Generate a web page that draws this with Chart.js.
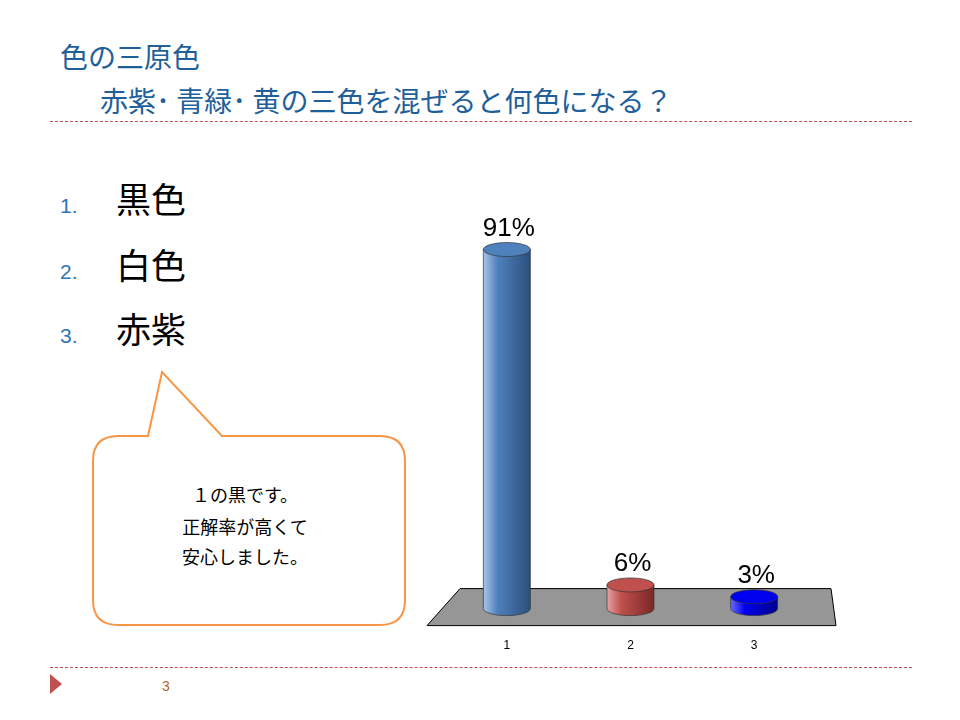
<!DOCTYPE html>
<html><head><meta charset="utf-8">
<script src="https://cdn.jsdelivr.net/npm/chart.js@4"></script>
<style>
body{margin:0;width:960px;height:720px;background:#fff;position:relative;overflow:hidden;font-family:"Noto Sans CJK JP",sans-serif}
.t{position:absolute;color:#1f5f9a;font-size:28px;white-space:nowrap}
.li{position:absolute;left:60px;font-size:35px;color:#000}
.li span{color:#2e75b6;font-size:21px;display:inline-block;width:56px;font-family:"Liberation Sans"}
.dash{position:absolute;left:50px;width:862px;border-top:1px dashed #c0504d}
#wrap{position:absolute;left:420px;top:200px;width:430px;height:475px}
</style></head><body>
<div class="t" style="left:60px;top:36px">色の三原色</div>
<div class="t" style="left:100px;top:80px">赤紫･ 青緑･ 黄の三色を混ぜると何色になる？</div>
<div class="dash" style="top:121px"></div>
<div class="li" style="top:172px"><span>1.</span>黒色</div>
<div class="li" style="top:238px"><span>2.</span>白色</div>
<div class="li" style="top:302px"><span>3.</span>赤紫</div>
<svg style="position:absolute;left:0;top:0" width="960" height="720">
<path d="M148 436 L162 372 L222 436 L380 436 Q405 436 405 461 L405 600 Q405 625 380 625 L118 625 Q93 625 93 600 L93 461 Q93 436 118 436 Z" fill="#fff" stroke="#f79646" stroke-width="2"/>
<text x="245" y="502" font-size="18" text-anchor="middle">１の黒です。</text>
<text x="245" y="534" font-size="18" text-anchor="middle">正解率が高くて</text>
<text x="245" y="564" font-size="18" text-anchor="middle">安心しました。</text>
<polygon points="50,674 50,694 62,684" fill="#c0504d"/>
<text x="162" y="691" font-size="14" fill="#b5651d" font-family="Liberation Sans">3</text>
</svg>
<div class="dash" style="top:667px"></div>
<div id="wrap"><canvas id="c"></canvas></div>
<script>
const categories = ['1', '2', '3'];
const values = [91, 6, 3];
const labels = ['91%', '6%', '3%'];
const colors = [['#a9c4e8', '#4f81bd', '#2c4f7c'], ['#e6a3a1', '#c0504d', '#7a2826'], ['#6b6bff', '#0000ee', '#00008a']];

const cylinder = {
  id: 'cylinder',
  beforeDatasetsDraw(chart) {
    const c = chart.ctx, a = chart.chartArea;
    c.save();
    c.beginPath();
    c.moveTo(a.left + 15, a.bottom - 20);
    c.lineTo(a.right + 15, a.bottom - 20);
    c.lineTo(a.right + 20, a.bottom + 17);
    c.lineTo(a.left - 18, a.bottom + 17);
    c.closePath();
    c.fillStyle = '#969696';
    c.fill();
    c.strokeStyle = '#000';
    c.lineWidth = 1;
    c.stroke();
    c.restore();
  },
  afterDatasetsDraw(chart) {
    const c = chart.ctx;
    chart.getDatasetMeta(0).data.forEach((b, i) => {
      const w = b.width, x0 = b.x - w / 2, ry = 7;
      const g = c.createLinearGradient(x0, 0, x0 + w, 0);
      g.addColorStop(0, colors[i][0]);
      g.addColorStop(0.3, colors[i][1]);
      g.addColorStop(1, colors[i][2]);
      c.save();
      c.fillStyle = g;
      c.strokeStyle = '#333';
      c.lineWidth = 0.7;
      c.beginPath();
      c.moveTo(x0, b.y);
      c.lineTo(x0, b.base);
      c.ellipse(b.x, b.base, w / 2, ry, 0, Math.PI, 0, true);
      c.lineTo(x0 + w, b.y);
      c.closePath();
      c.fill();
      c.stroke();
      c.beginPath();
      c.ellipse(b.x, b.y, w / 2, ry, 0, 0, Math.PI * 2);
      c.fillStyle = colors[i][1];
      c.fill();
      c.stroke();
      c.fillStyle = '#000';
      c.font = '26px "Liberation Sans"';
      c.textAlign = 'center';
      c.fillText(labels[i], b.x + 2, b.y - 14);
      c.restore();
    });
  }
};

new Chart(document.getElementById('c'), {
  type: 'bar',
  data: {
    labels: categories,
    datasets: [{ data: values, backgroundColor: 'rgba(0,0,0,0)', categoryPercentage: 0.38, barPercentage: 1 }]
  },
  options: {
    responsive: true,
    maintainAspectRatio: false,
    animation: false,
    layout: { padding: { top: 14, left: 25, right: 34 } },
    plugins: { legend: { display: false }, tooltip: { enabled: false } },
    scales: {
      x: { grid: { display: false }, border: { display: false }, ticks: { padding: 22, color: '#000', font: { size: 12, family: 'Liberation Sans' } } },
      y: { display: false, min: 0, max: 100 }
    }
  },
  plugins: [cylinder]
});
</script>
</body></html>
